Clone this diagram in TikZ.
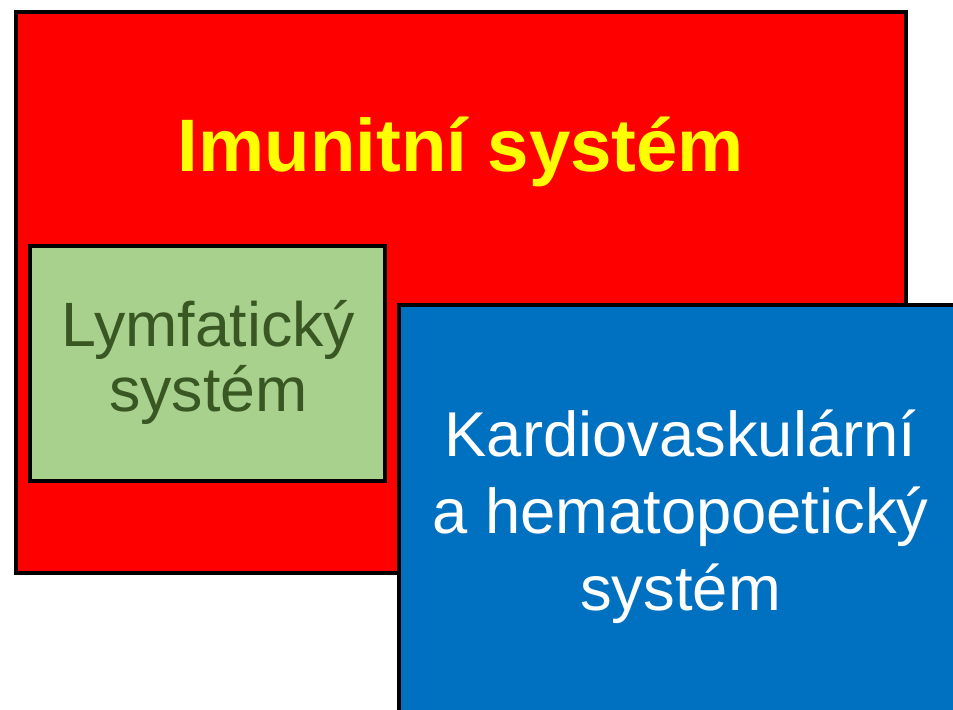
\documentclass[tikz,border=0pt]{standalone}
\usepackage{fontspec}
\setmainfont{Liberation Sans}
\definecolor{boxred}{HTML}{FF0000}
\definecolor{titleyellow}{HTML}{FFFF00}
\definecolor{boxgreen}{HTML}{A9D18E}
\definecolor{textgreen}{HTML}{385723}
\definecolor{boxblue}{HTML}{0070C0}
\begin{document}
\begin{tikzpicture}[x=0.75pt,y=-0.75pt,
  panel/.style={draw=black,line width=3pt},
  titletext/.style={anchor=base,inner sep=0pt,text=titleyellow,font=\bfseries\fontsize{55.8}{60}\selectfont},
  greentext/.style={anchor=base,inner sep=0pt,text=textgreen,font=\fontsize{47}{50}\selectfont},
  bluetext/.style={anchor=base,inner sep=0pt,text=white,font=\fontsize{47.5}{50}\selectfont}]
\useasboundingbox (0,0) rectangle (953,710);
\clip (0,0) rectangle (953,710);
\fill[white] (0,0) rectangle (953,710);
% red box
\draw[panel,fill=boxred] (16,12) rectangle (905.5,573);
% green box
\draw[panel,fill=boxgreen] (30.3,246) rectangle (385.3,481.3);
% blue box
\draw[panel,fill=boxblue] (399.3,305.3) rectangle (970,730);
% texts
\node[titletext] (title) at (461,171.7) {Imunitní systém};
\node[greentext] (lym1) at (208.5,346.7) {Lymfatický};
\node[greentext] (lym2) at (208.5,411.7) {systém};
\node[bluetext] (kar1) at (680.5,456.7) {Kardiovaskulární};
\node[bluetext] (kar2) at (680.5,533.3) {a hematopoetický};
\node[bluetext] (kar3) at (680.5,610) {systém};
\end{tikzpicture}
\end{document}
